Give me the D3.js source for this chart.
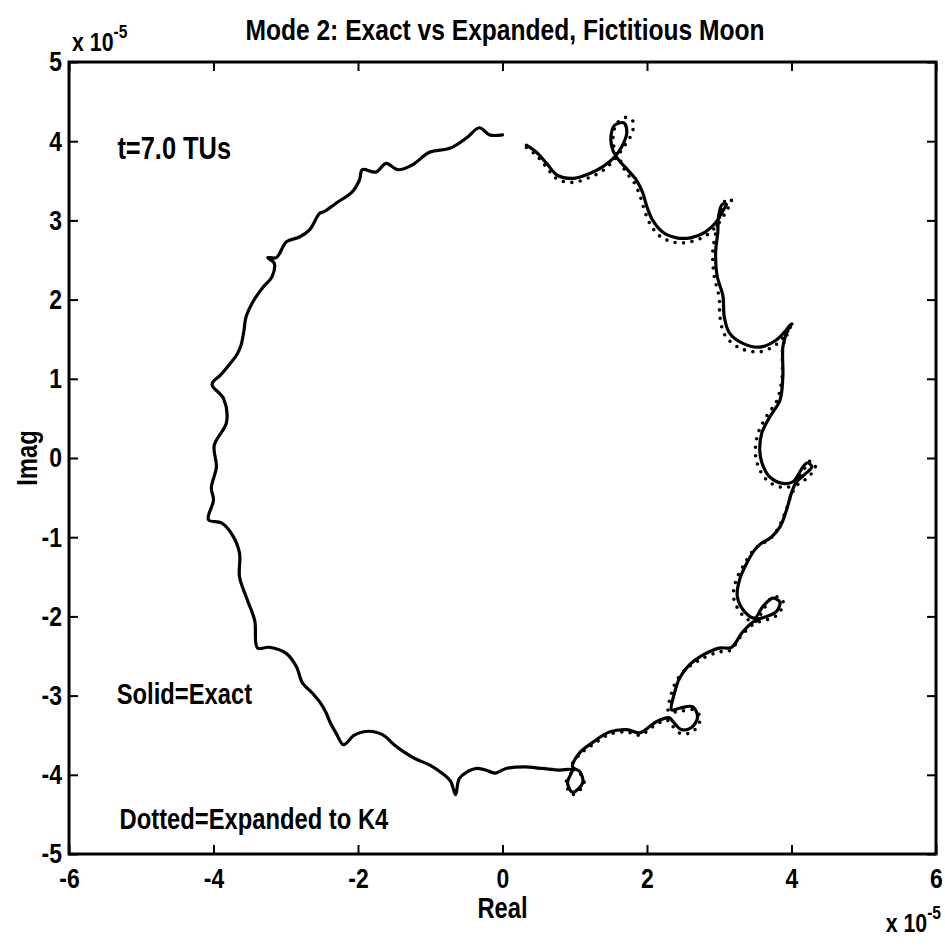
<!DOCTYPE html>
<html><head><meta charset="utf-8">
<script src="https://cdn.jsdelivr.net/npm/d3@7"></script>
<style>
html,body{margin:0;padding:0;background:#fff;}
text{font-family:"Liberation Sans",Arial,"DejaVu Sans",sans-serif;font-weight:bold;fill:#000;}
</style></head>
<body>
<svg id="chart" width="945" height="948"></svg>
<script>
// Values in units of 1e-5
const xTicks = [-6, -4, -2, 0, 2, 4, 6];
const yTicks = [-5, -4, -3, -2, -1, 0, 1, 2, 3, 4, 5];
const exact = [
[0.33,3.95],[0.47,3.86],[0.61,3.72],[0.76,3.57],[0.97,3.53],[1.2,3.59],[1.39,3.68],[1.55,3.8],
[1.65,3.93],[1.72,4.1],[1.68,4.23],[1.55,4.2],[1.5,4.04],[1.53,3.88],[1.62,3.75],[1.72,3.65],
[1.86,3.5],[1.94,3.35],[2.0,3.17],[2.08,3.0],[2.22,2.85],[2.41,2.78],[2.6,2.78],[2.8,2.85],
[2.95,2.97],[3.05,3.12],[3.1,3.2],[3.04,3.2],[2.99,3.05],[2.98,2.85],[2.95,2.6],[2.97,2.3],
[3.05,2.05],[3.07,1.78],[3.14,1.58],[3.32,1.45],[3.56,1.4],[3.79,1.49],[3.93,1.62],[3.98,1.68],
[3.92,1.55],[3.88,1.4],[3.88,1.02],[3.84,0.73],[3.7,0.52],[3.59,0.32],[3.56,0.1],[3.59,-0.06],
[3.7,-0.24],[3.88,-0.32],[4.02,-0.3],[4.16,-0.11],[4.22,-0.06],[4.28,-0.11],[4.18,-0.21],[4.07,-0.3],
[4.0,-0.44],[3.93,-0.66],[3.84,-0.87],[3.72,-1.0],[3.58,-1.08],[3.49,-1.16],[3.38,-1.33],[3.28,-1.54],
[3.25,-1.75],[3.35,-1.94],[3.49,-2.02],[3.6,-1.88],[3.74,-1.77],[3.84,-1.82],[3.79,-1.94],[3.66,-2.0],
[3.5,-2.05],[3.32,-2.2],[3.17,-2.39],[3.0,-2.4],[2.77,-2.49],[2.59,-2.61],[2.45,-2.78],[2.38,-2.97],
[2.34,-3.18],[2.45,-3.16],[2.63,-3.14],[2.7,-3.27],[2.62,-3.4],[2.48,-3.43],[2.36,-3.33],[2.31,-3.28],
[2.13,-3.33],[1.9,-3.47],[1.72,-3.43],[1.48,-3.46],[1.25,-3.59],[1.07,-3.72],[0.97,-3.9],[1.07,-3.96],
[1.11,-4.1],[0.97,-4.22],[0.9,-4.1],[0.96,-3.94],[0.79,-3.94],[0.55,-3.92],[0.3,-3.9],[0.05,-3.92],
[-0.1,-3.98],[-0.2,-3.95],[-0.35,-3.92],[-0.5,-3.97],[-0.6,-4.05],[-0.65,-4.25],[-0.72,-4.08],[-0.85,-3.97],
[-1.0,-3.88],[-1.2,-3.8],[-1.35,-3.72],[-1.5,-3.62],[-1.65,-3.5],[-1.85,-3.45],[-2.05,-3.5],[-2.2,-3.62],
[-2.3,-3.48],[-2.38,-3.35],[-2.45,-3.2],[-2.53,-3.08],[-2.63,-2.97],[-2.77,-2.84],[-2.85,-2.64],[-2.99,-2.47],
[-3.23,-2.39],[-3.39,-2.4],[-3.43,-2.05],[-3.55,-1.75],[-3.64,-1.5],[-3.64,-1.2],[-3.74,-0.97],[-3.89,-0.82],
[-4.07,-0.78],[-4.0,-0.53],[-4.03,-0.38],[-3.96,-0.11],[-3.99,0.16],[-3.82,0.45],[-3.86,0.75],[-4.02,0.93],
[-3.9,1.05],[-3.78,1.18],[-3.68,1.3],[-3.62,1.42],[-3.58,1.6],[-3.55,1.78],[-3.45,1.98],[-3.32,2.15],
[-3.19,2.29],[-3.16,2.46],[-3.25,2.53],[-3.13,2.53],[-2.99,2.73],[-2.81,2.79],[-2.67,2.88],[-2.53,3.09],
[-2.47,3.11],[-2.3,3.22],[-2.08,3.36],[-1.98,3.51],[-1.94,3.64],[-1.75,3.61],[-1.61,3.72],[-1.45,3.64],
[-1.25,3.7],[-1.01,3.86],[-0.73,3.91],[-0.5,4.04],[-0.32,4.17],[-0.18,4.08],[0.0,4.08]
];
const expanded = [
[0.33,3.92],[0.47,3.82],[0.61,3.67],[0.76,3.52],[0.97,3.48],[1.2,3.54],[1.39,3.63],[1.55,3.77],
[1.68,3.93],[1.8,4.12],[1.8,4.26],[1.7,4.3],[1.58,4.22],[1.53,4.05],[1.56,3.87],[1.64,3.74],
[1.7,3.62],[1.82,3.48],[1.9,3.32],[1.96,3.14],[2.04,2.96],[2.18,2.8],[2.39,2.72],[2.6,2.73],
[2.82,2.81],[2.98,2.95],[3.1,3.12],[3.17,3.25],[3.1,3.27],[3.02,3.1],[2.96,2.88],[2.91,2.6],
[2.93,2.3],[3.0,2.02],[3.01,1.78],[3.08,1.55],[3.28,1.39],[3.56,1.34],[3.8,1.44],[3.96,1.62],
[4.02,1.72],[3.94,1.56],[3.88,1.4],[3.87,1.02],[3.8,0.73],[3.65,0.52],[3.54,0.32],[3.5,0.1],
[3.53,-0.08],[3.66,-0.28],[3.86,-0.37],[4.03,-0.34],[4.19,-0.12],[4.26,-0.04],[4.33,-0.11],[4.22,-0.25],
[4.08,-0.34],[4.0,-0.46],[3.92,-0.67],[3.82,-0.88],[3.7,-1.02],[3.56,-1.1],[3.46,-1.18],[3.34,-1.35],
[3.23,-1.55],[3.2,-1.77],[3.32,-1.98],[3.49,-2.07],[3.62,-1.9],[3.75,-1.75],[3.88,-1.8],[3.82,-1.97],
[3.67,-2.04],[3.49,-2.09],[3.31,-2.24],[3.15,-2.43],[2.99,-2.45],[2.75,-2.54],[2.56,-2.65],[2.41,-2.81],
[2.33,-3.0],[2.3,-3.2],[2.45,-3.2],[2.64,-3.18],[2.74,-3.28],[2.64,-3.45],[2.47,-3.48],[2.33,-3.36],
[2.28,-3.31],[2.12,-3.37],[1.9,-3.5],[1.72,-3.46],[1.48,-3.49],[1.25,-3.62],[1.06,-3.75],[0.95,-3.91],
[1.07,-3.98],[1.13,-4.11],[0.97,-4.25],[0.88,-4.1],[0.96,-3.94],[0.79,-3.95]
];
const titleText = "Mode 2: Exact vs Expanded, Fictitious Moon";
const notes = [
  {text: "t=7.0 TUs", x: -5.33, y: 3.78, size: 31},
  {text: "Solid=Exact", x: -5.34, y: -3.1, size: 29},
  {text: "Dotted=Expanded to K4", x: -5.3, y: -4.68, size: 29}
];

const SX = 0.82; // condensed (narrow) look
const svg = d3.select("#chart");
const L = 69, R = 936, T = 62, B = 854;
const x = d3.scaleLinear().domain([-6, 6]).range([L, R]);
const y = d3.scaleLinear().domain([-5, 5]).range([B, T]);

function label(px, py, str, size, anchor, rot) {
  const g = svg.append("g").attr("transform", `translate(${px},${py})${rot ? ` rotate(${rot})` : ""} scale(${SX},1)`);
  const t = g.append("text").attr("text-anchor", anchor || "start").style("font-size", size + "px");
  t.text(str);
  return t;
}

const line = d3.line().x(d => x(d[0])).y(d => y(d[1])).curve(d3.curveCatmullRom.alpha(0.5));

svg.append("path").datum(expanded).attr("d", line)
  .attr("fill", "none").attr("stroke", "#000").attr("stroke-width", 3.6)
  .attr("stroke-linecap", "round").attr("stroke-dasharray", "0,8.5");
svg.append("path").datum(exact).attr("d", line)
  .attr("fill", "none").attr("stroke", "#000").attr("stroke-width", 3.2)
  .attr("stroke-linejoin", "round").attr("stroke-linecap", "round");

const tickLen = 9;
const gB = svg.append("g").attr("transform", `translate(0,${B})`)
  .call(d3.axisBottom(x).tickValues(xTicks).tickSize(-tickLen).tickPadding(14).tickFormat(d3.format("d")));
const gT = svg.append("g").attr("transform", `translate(0,${T})`)
  .call(d3.axisTop(x).tickValues(xTicks).tickSize(-tickLen).tickFormat(""));
const gL = svg.append("g").attr("transform", `translate(${L},0)`)
  .call(d3.axisLeft(y).tickValues(yTicks).tickSize(-tickLen).tickPadding(6).tickFormat(d3.format("d")));
const gR = svg.append("g").attr("transform", `translate(${R},0)`)
  .call(d3.axisRight(y).tickValues(yTicks).tickSize(-tickLen).tickFormat(""));
[gB, gT, gL, gR].forEach(g => {
  g.select(".domain").remove();
  g.selectAll(".tick line").attr("stroke", "#000").attr("stroke-width", 2);
  g.selectAll("text").style("font-size", "28px").attr("fill", "#000")
    .style("font-family", '"Liberation Sans",Arial,sans-serif').style("font-weight", "bold");
});
gB.selectAll("text").attr("dy", "0.71em").attr("transform", `scale(${SX},1)`).text(d => d3.format("d")(d).replace("−", "-"));
gL.selectAll("text").attr("x", -7 / SX).attr("transform", `scale(${SX},1)`).text(d => d3.format("d")(d).replace("−", "-"));
svg.append("rect").attr("x", L).attr("y", T).attr("width", R - L).attr("height", B - T)
  .attr("fill", "none").attr("stroke", "#000").attr("stroke-width", 3);

// title
label(505, 40, titleText, 30, "middle");

// exponent labels
const e1 = label(72, 51, "", 26, "start");
e1.append("tspan").text("x 10");
e1.append("tspan").attr("dy", -13).style("font-size", "19px").text("-5");
const e2 = label(941, 932, "", 26, "end");
e2.append("tspan").text("x 10");
e2.append("tspan").attr("dy", -13).style("font-size", "19px").text("-5");

// axis labels
label(x(0), 918, "Real", 29, "middle");
label(37, y(0), "Imag", 29, "middle", -90);

// annotations
notes.forEach(n => label(x(n.x), y(n.y), n.text, n.size, "start"));
</script>
</body></html>
